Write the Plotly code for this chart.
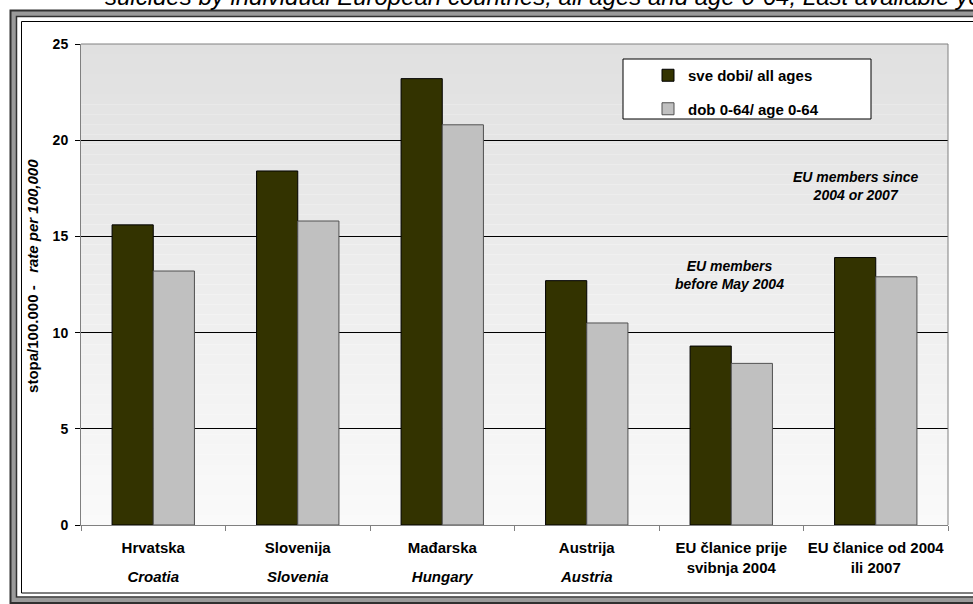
import plotly.graph_objects as go

categories_hr = ["Hrvatska", "Slovenija", "Mađarska", "Austrija",
                 "EU članice prije<br>svibnja 2004", "EU članice od 2004<br>ili 2007"]
categories_en = ["Croatia", "Slovenia", "Hungary", "Austria", "", ""]
all_ages = [15.6, 18.4, 23.2, 12.7, 9.3, 13.9]
age_0_64 = [13.2, 15.8, 20.8, 10.5, 8.4, 12.9]
y_ticks = [0, 5, 10, 15, 20, 25]

FONT = "Arial, Liberation Sans, sans-serif"
W, H = 973, 604
L, R, T, B = 81, 25, 44, 79
PW, PH = W - L - R, H - T - B

def px(x):
    return (x - L) / PW

def py(y):
    return (H - B - y) / PH

cat_keys = [c.replace("<br>", " ") for c in categories_hr]

def tick_label(hr, en):
    sp = "<span style='font-size:15px'>"
    parts = hr.split("<br>")
    if en:
        return f"{sp}<b>{parts[0]}</b></span><br><br><br>{sp}<b><i>{en}</i></b></span>"
    return "<br><br>".join(f"{sp}<b>{p}</b></span>" for p in parts)

tick_text = [tick_label(h, e) for h, e in zip(categories_hr, categories_en)]

fig = go.Figure()
fig.add_trace(go.Bar(x=cat_keys, y=all_ages, name="<b>sve dobi/ all ages</b>",
                     marker=dict(color="#333300", line=dict(color="#000000", width=1)),
                     legendgroup="a"))
fig.add_trace(go.Bar(x=cat_keys, y=age_0_64, name="<b>dob 0-64/ age 0-64</b>",
                     marker=dict(color="#c0c0c0", line=dict(color="#505050", width=1)),
                     legendgroup="b"))

shapes = []
n = 48
for i in range(n):
    c = int(round(224 + (250 - 224) * (i + 0.5) / n))
    shapes.append(dict(type="rect", xref="paper", yref="paper", x0=0, x1=1,
                       y0=1 - (i + 1) / n, y1=1 - i / n, fillcolor=f"rgb({c},{c},{c})",
                       line=dict(width=0), layer="below"))
shapes.append(dict(type="line", xref="paper", yref="paper", x0=0, x1=1, y0=1, y1=1,
                   line=dict(color="#808080", width=1)))
shapes.append(dict(type="line", xref="paper", yref="paper", x0=1, x1=1, y0=0, y1=1,
                   line=dict(color="#808080", width=1)))
# outer frame
shapes.append(dict(type="rect", xref="paper", yref="paper",
                   x0=px(13.5), x1=px(990), y0=py(600), y1=py(13.5),
                   line=dict(color="#9a9a9a", width=5), fillcolor="rgba(0,0,0,0)"))
shapes.append(dict(type="rect", xref="paper", yref="paper",
                   x0=px(10.5), x1=px(993), y0=py(603), y1=py(10.5),
                   line=dict(color="#303030", width=2), fillcolor="rgba(0,0,0,0)"))
shapes.append(dict(type="rect", xref="paper", yref="paper",
                   x0=px(16.5), x1=px(987), y0=py(597), y1=py(16.5),
                   line=dict(color="#303030", width=1.5), fillcolor="rgba(0,0,0,0)"))
shapes.append(dict(type="rect", xref="paper", yref="paper",
                   x0=px(21.5), x1=px(985), y0=py(593), y1=py(21.5),
                   line=dict(color="#000000", width=1), fillcolor="rgba(0,0,0,0)"))
# legend box
shapes.append(dict(type="rect", xref="paper", yref="paper",
                   x0=px(623), x1=px(871), y0=py(119), y1=py(59),
                   line=dict(color="#000000", width=1), fillcolor="#ffffff"))

annotations = [
    dict(text="<i>suicides by individual European countries, all ages and age 0-64, Last available year</i>",
         xref="paper", yref="paper", x=px(103), y=py(12), xanchor="left", yanchor="bottom",
         showarrow=False, font=dict(family=FONT, size=24, color="#000000")),
    dict(text="<b><i>EU members since<br>2004 or 2007</i></b>", xref="paper", yref="paper",
         x=px(855), y=py(186), xanchor="center", yanchor="middle", showarrow=False,
         font=dict(family=FONT, size=14, color="#000000")),
    dict(text="<b><i>EU members<br>before May 2004</i></b>", xref="paper", yref="paper",
         x=px(729), y=py(275), xanchor="center", yanchor="middle", showarrow=False,
         font=dict(family=FONT, size=14, color="#000000")),
]

nb = "\u00a0"
fig.update_layout(
    width=W, height=H,
    margin=dict(l=L, r=R, t=T, b=B, pad=0, autoexpand=False),
    paper_bgcolor="#ffffff", plot_bgcolor="rgba(0,0,0,0)",
    barmode="group", bargap=0.43, bargroupgap=0,
    font=dict(family=FONT, size=13, color="#000000"),
    shapes=shapes, annotations=annotations,
    legend=dict(x=px(648), y=py(59), xanchor="left", yanchor="top",
                bgcolor="rgba(0,0,0,0)", borderwidth=0,
                font=dict(family=FONT, size=15, color="#000000"),
                traceorder="grouped", tracegroupgap=11),
    showlegend=True,
)
fig.update_yaxes(range=[0, 25], tickvals=y_ticks, ticktext=[f"<b>{v}</b>" for v in y_ticks],
                 showgrid=True, gridcolor="#000000", gridwidth=1,
                 showline=True, linecolor="#808080", linewidth=1,
                 ticks="outside", ticklen=5, tickcolor="#000000",
                 ticklabelstandoff=4, automargin=False,
                 tickfont=dict(family=FONT, size=14, color="#000000"),
                 zeroline=False,
                 title=dict(text=f"<b>{nb*4}stopa/100.000 -{nb*3}<i>rate per 100,000</i></b>",
                            font=dict(family=FONT, size=15, color="#000000"), standoff=10))
fig.update_xaxes(showline=True, linecolor="#808080", linewidth=1,
                 ticks="outside", ticklen=5, tickcolor="#808080",
                 tickson="boundaries", ticklabelstandoff=18, tickangle=0,
                 automargin=False,
                 tickmode="array", tickvals=cat_keys, ticktext=tick_text,
                 tickfont=dict(family=FONT, size=7.5, color="#000000"))

fig.write_html("out.html", config={"displayModeBar": False},
               post_script="document.body.style.margin='0';")
